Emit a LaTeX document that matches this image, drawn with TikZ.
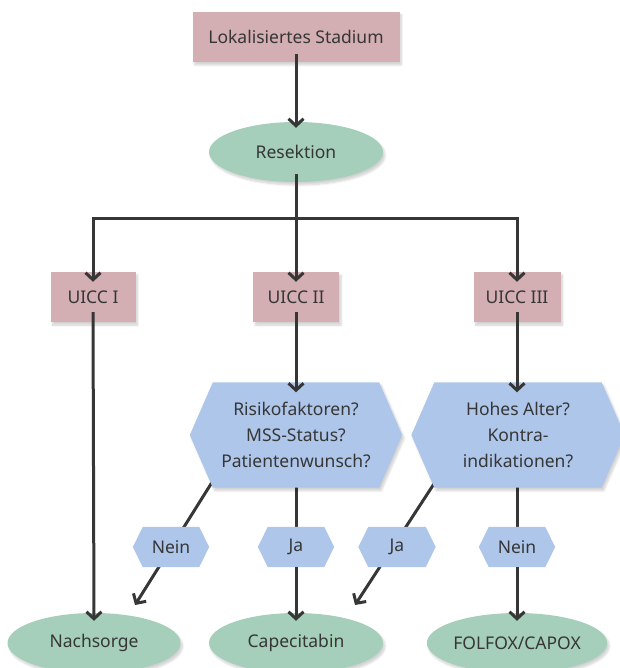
\documentclass[tikz,border=0pt]{standalone}
\usepackage{fontspec}
\setmainfont{Noto Sans}
\usetikzlibrary{arrows.meta,shapes.geometric,shadows.blur,backgrounds}
\definecolor{rectc}{HTML}{D3AEB2}
\definecolor{ellc}{HTML}{A5CFBA}
\definecolor{hexc}{HTML}{AEC6EA}
\definecolor{linec}{HTML}{363636}
\definecolor{txtc}{HTML}{363636}
\begin{document}
\begin{tikzpicture}[x=1pt,y=-1pt,
  every node/.style={font=\fontsize{17.5}{26}\selectfont, text=txtc, align=center, inner sep=0pt},
  shd/.style={blur shadow={shadow blur steps=6, shadow xshift=2pt, shadow yshift=-3pt, shadow opacity=18}},
  rbox/.style={rectangle, fill=rectc, shd},
  ebox/.style={ellipse, fill=ellc, minimum width=174pt, minimum height=60pt, shd},
  hbox/.style={rectangle, minimum height=105pt},
  conn/.style={draw=linec, line width=3pt},
  arr/.style={conn, -{Straight Barb[length=7pt,width=15pt,line width=3pt]}},
]
\useasboundingbox (0,0) rectangle (619,668);

% top
\node[rbox, minimum width=207pt, minimum height=50pt] (top) at (296,37) {Lokalisiertes Stadium};
\node[ebox] (res) at (296,152) {Resektion};

\node[rbox, minimum width=85pt, minimum height=50pt] (u1) at (93,297) {UICC I};
\node[rbox, minimum width=86pt, minimum height=50pt] (u2) at (296,297) {UICC II};
\node[rbox, minimum width=87pt, minimum height=50pt] (u3) at (517,297) {UICC III};

% hexagons
\node[hbox, minimum width=212pt] (h1) at (296,435) {Risikofaktoren?\\MSS-Status?\\Patientenwunsch?};
\node[hbox, minimum width=213pt] (h2) at (518,435) {Hohes Alter?\\Kontra-\\indikationen?};

% labels
\node[rectangle, minimum width=76pt, minimum height=40pt] (l1) at (171,547) {Nein};
\node[rectangle, minimum width=76pt, minimum height=40pt] (l2) at (296,547) {Ja};
\node[rectangle, minimum width=77pt, minimum height=40pt] (l3) at (397,547) {Ja};
\node[rectangle, minimum width=76pt, minimum height=40pt] (l4) at (517,547) {Nein};

% bottom
\node[ebox, minimum width=173pt] (n1) at (94,643) {Nachsorge};
\node[ebox] (n2) at (296,643) {Capecitabin};
\node[ebox] (n3) at (517,643) {FOLFOX/CAPOX};

\coordinate (e1) at (135,605);
\coordinate (e3) at (355,605);

\begin{scope}[on background layer]
  % connectors running behind the labels
  \draw[arr] ([xshift=-83pt,yshift=7pt]h1.south) -- (e1);
  \draw[conn] ([yshift=7pt]h1.south) -- (l2.center);
  \draw[arr] ([xshift=-82pt,yshift=7pt]h2.south) -- (e3);
  \draw[conn] ([xshift=-1pt,yshift=7pt]h2.south) -- (l4.center);
  \foreach \h/\d in {h1/23, h2/23} {
    \fill[hexc, shd] (\h.west) -- ([xshift=\d pt]\h.north west) -- ([xshift=-\d pt]\h.north east)
      -- (\h.east) -- ([xshift=-\d pt]\h.south east) -- ([xshift=\d pt]\h.south west) -- cycle;
  }
  \foreach \h/\d in {l1/10, l2/10, l3/10, l4/10} {
    \fill[hexc] (\h.west) -- ([xshift=\d pt]\h.north west) -- ([xshift=-\d pt]\h.north east)
      -- (\h.east) -- ([xshift=-\d pt]\h.south east) -- ([xshift=\d pt]\h.south west) -- cycle;
  }
\end{scope}

% connectors
\draw[arr] ([yshift=8pt]top.south) -- ([yshift=-6pt]res.north);
\coordinate (bj) at (296,218);
\draw[conn] ([yshift=8pt]res.south) -- (bj);
\draw[conn] ([xshift=-1.5pt]u1.north |- bj) -- ([xshift=1.5pt]u3.north |- bj);
\draw[arr] (u1.north |- bj) -- ([yshift=-10pt]u1.north);
\draw[arr] (bj) -- ([yshift=-10pt]u2.north);
\draw[arr] (u3.north |- bj) -- ([yshift=-10pt]u3.north);

\draw[arr] ([yshift=10pt]u1.south) -- ([yshift=-8pt]n1.north);
\draw[arr] ([yshift=10pt]u2.south) -- ([yshift=-10pt]h1.north);
\draw[arr] ([yshift=10pt]u3.south) -- ([yshift=-10pt]u3.south |- h2.north);

\draw[arr] (l2.south) -- ([yshift=-8pt]n2.north);
\draw[arr] (l4.south) -- ([yshift=-8pt]n3.north);
\end{tikzpicture}
\end{document}
